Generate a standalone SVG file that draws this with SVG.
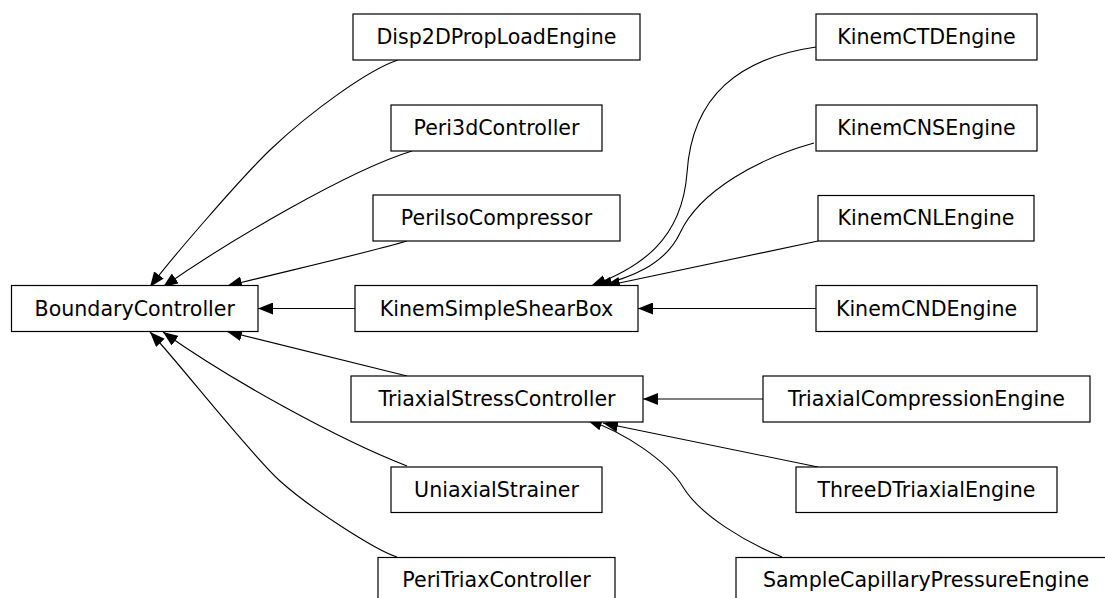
<svg xmlns="http://www.w3.org/2000/svg" width="1105" height="598" viewBox="0 0 1105 598">
<style>
.node rect{fill:#fff;stroke:#000;stroke-width:1.2}
.node text{font-family:"DejaVu Sans",sans-serif;font-size:20.6px;text-anchor:middle;fill:#000}
.edges path{fill:none;stroke:#000;stroke-width:1.1;marker-end:url(#arr)}
</style>
<defs>
<marker id="arr" markerUnits="userSpaceOnUse" viewBox="0 0 15 12" refX="15" refY="6" markerWidth="15" markerHeight="12" orient="auto">
<path d="M0,0 L15,6 L0,12 z" fill="#000"/>
</marker>
</defs>
<rect width="1105" height="598" fill="#fff"/>
<g class="edges">
<path d="M398,60 C370,69 312,110 270,150 C240,179 170,260 150,287"/>
<path d="M412,151 C350,170 230,240 163,287"/>
<path d="M407,241 C370,252 300,268 227,286"/>
<path d="M355,308.5 L258,308.5"/>
<path d="M407,376 L227,331.5"/>
<path d="M407,466 C340,440 230,380 163,332"/>
<path d="M397,557 C375,550 310,508 280,481 C250,454 175,358 150,332"/>
<path d="M816,47 C740,58 692,95 687,173 C682,240 640,268 591,286"/>
<path d="M814,143 C760,158 700,190 680,233 C665,265 630,278 597,286"/>
<path d="M818,241 L605,286"/>
<path d="M816,308.5 L638,308.5"/>
<path d="M763,399 L643,399"/>
<path d="M818,467 L603,423"/>
<path d="M782,557 C745,542 700,515 683,487 C668,462 625,432 587,420"/>
</g>
<g id="BoundaryController" class="node"><rect x="11.5" y="285.5" width="246.5" height="46"/><text x="134.75" y="315.5">BoundaryController</text></g>
<g id="Disp2DPropLoadEngine" class="node"><rect x="353" y="14" width="287" height="46"/><text x="496.5" y="44">Disp2DPropLoadEngine</text></g>
<g id="Peri3dController" class="node"><rect x="391" y="105" width="211" height="46"/><text x="496.5" y="135">Peri3dController</text></g>
<g id="PeriIsoCompressor" class="node"><rect x="373" y="195" width="247" height="46"/><text x="496.5" y="225">PeriIsoCompressor</text></g>
<g id="KinemSimpleShearBox" class="node"><rect x="355" y="285.5" width="283" height="46"/><text x="496.5" y="315.5">KinemSimpleShearBox</text></g>
<g id="TriaxialStressController" class="node"><rect x="351" y="376" width="292" height="46"/><text x="497" y="406">TriaxialStressController</text></g>
<g id="UniaxialStrainer" class="node"><rect x="391" y="467" width="211" height="45.5"/><text x="496.5" y="497">UniaxialStrainer</text></g>
<g id="PeriTriaxController" class="node"><rect x="378" y="557.5" width="237" height="46"/><text x="496.5" y="586.5">PeriTriaxController</text></g>
<g id="KinemCTDEngine" class="node"><rect x="816" y="14" width="221" height="46"/><text x="926.5" y="44">KinemCTDEngine</text></g>
<g id="KinemCNSEngine" class="node"><rect x="816" y="105" width="221" height="46"/><text x="926.5" y="135">KinemCNSEngine</text></g>
<g id="KinemCNLEngine" class="node"><rect x="818" y="195.5" width="216" height="45.5"/><text x="926" y="225">KinemCNLEngine</text></g>
<g id="KinemCNDEngine" class="node"><rect x="816" y="285.5" width="221" height="46"/><text x="926.5" y="315.5">KinemCNDEngine</text></g>
<g id="TriaxialCompressionEngine" class="node"><rect x="763" y="376" width="327" height="46"/><text x="926.5" y="406">TriaxialCompressionEngine</text></g>
<g id="ThreeDTriaxialEngine" class="node"><rect x="796" y="467" width="261" height="45.5"/><text x="926.5" y="497">ThreeDTriaxialEngine</text></g>
<g id="SampleCapillaryPressureEngine" class="node"><rect x="736" y="557.5" width="380" height="46"/><text x="926" y="586.5">SampleCapillaryPressureEngine</text></g>
</svg>
